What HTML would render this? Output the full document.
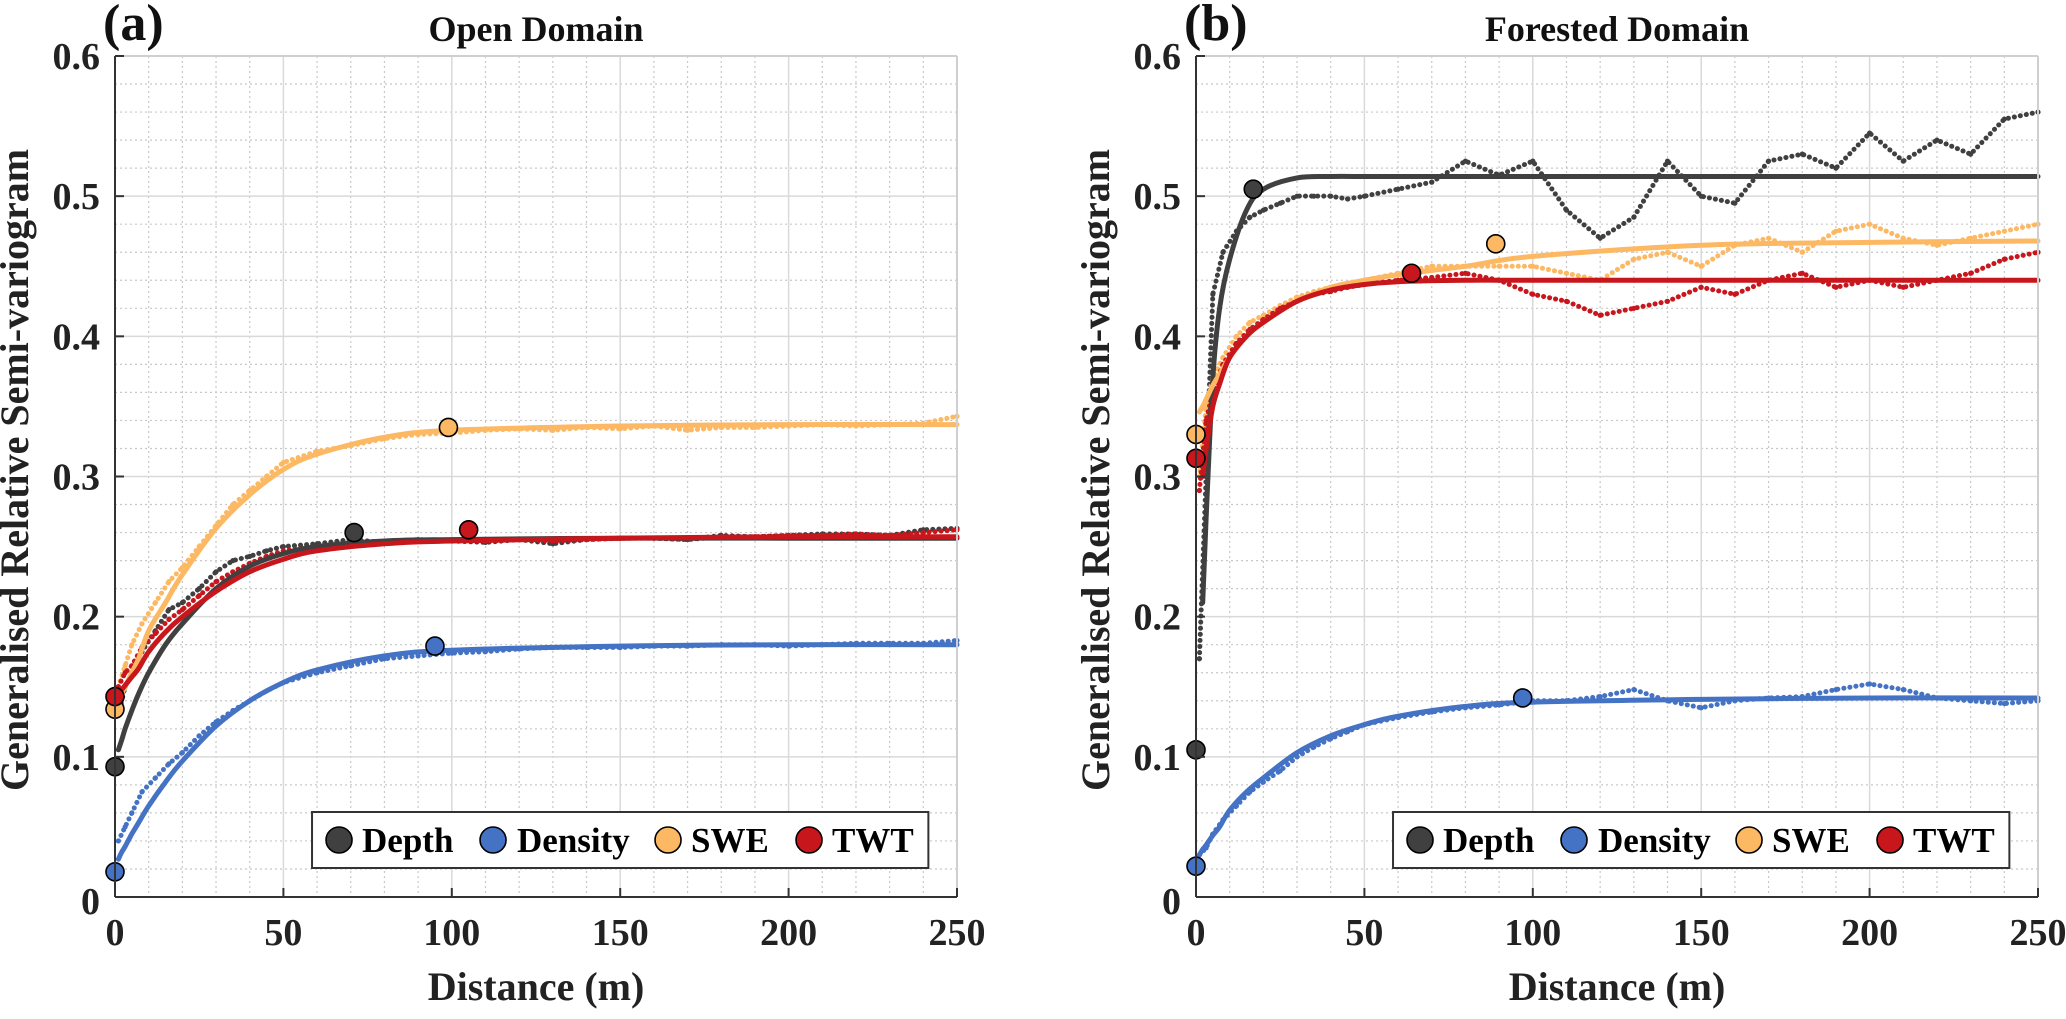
<!DOCTYPE html>
<html><head><meta charset="utf-8"><style>
html,body{margin:0;padding:0;background:#fff;}
svg{display:block;}
svg text{font-family:"Liberation Serif","DejaVu Serif",serif;font-weight:bold;}
</style></head><body>
<svg id="fig" width="2066" height="1019" viewBox="0 0 2066 1019" xmlns="http://www.w3.org/2000/svg"></svg>
<script>
// ---------- data ----------
const seriesNames = ["Depth","Density","SWE","TWT"];
const seriesColors = ["#404040","#4472c4","#fdb863","#c8161d"];
const xTicks = [0,50,100,150,200,250];
const yTicks = [0,0.1,0.2,0.3,0.4,0.5,0.6];
const yTickLabels = ["0","0.1","0.2","0.3","0.4","0.5","0.6"];
const xTickLabels = ["0","50","100","150","200","250"];
const panelTitles = ["Open Domain","Forested Domain"];
const panelLetters = ["(a)","(b)"];

// empirical lags
const empX = [1,3,5,8,12,16,20,25,30,35,40,45,50,60,70,80,90,100,110,120,130,140,150,160,170,180,190,200,210,220,230,240,250];
// Panel a empirical
const aDepthEmp = [0.13,0.15,0.16,0.175,0.19,0.205,0.21,0.22,0.232,0.24,0.243,0.247,0.25,0.252,0.255,0.253,0.255,0.254,0.253,0.255,0.252,0.255,0.256,0.256,0.255,0.258,0.257,0.258,0.259,0.259,0.258,0.262,0.263];
const aDensityEmp = [0.04,0.05,0.06,0.075,0.085,0.095,0.103,0.115,0.125,0.133,0.14,0.147,0.153,0.16,0.165,0.17,0.172,0.174,0.175,0.177,0.178,0.178,0.178,0.179,0.179,0.18,0.18,0.179,0.18,0.181,0.181,0.181,0.183];
const aSweEmp = [0.15,0.165,0.18,0.195,0.21,0.225,0.235,0.25,0.265,0.28,0.29,0.3,0.31,0.318,0.322,0.327,0.33,0.331,0.333,0.334,0.333,0.335,0.334,0.336,0.333,0.335,0.335,0.336,0.337,0.336,0.337,0.338,0.343];
const aTwtEmp = [0.15,0.16,0.165,0.178,0.188,0.198,0.205,0.215,0.225,0.232,0.238,0.243,0.247,0.25,0.252,0.253,0.254,0.254,0.254,0.255,0.254,0.255,0.256,0.256,0.255,0.257,0.257,0.258,0.258,0.259,0.258,0.26,0.262];
// Panel b empirical
const bDepthEmp = [0.17,0.3,0.43,0.46,0.475,0.485,0.49,0.495,0.5,0.5,0.5,0.498,0.5,0.505,0.51,0.525,0.515,0.525,0.49,0.47,0.485,0.525,0.5,0.495,0.525,0.53,0.52,0.545,0.525,0.54,0.53,0.555,0.56];
const bDensityEmp = [0.03,0.035,0.045,0.055,0.065,0.075,0.082,0.09,0.1,0.107,0.113,0.118,0.123,0.128,0.132,0.135,0.137,0.14,0.14,0.143,0.148,0.14,0.135,0.14,0.142,0.143,0.148,0.152,0.148,0.142,0.14,0.138,0.14];
const bSweEmp = [0.3,0.35,0.37,0.385,0.4,0.41,0.415,0.422,0.428,0.432,0.435,0.437,0.44,0.445,0.45,0.45,0.45,0.45,0.445,0.44,0.455,0.46,0.45,0.465,0.47,0.46,0.475,0.48,0.47,0.465,0.47,0.475,0.48];
const bTwtEmp = [0.29,0.34,0.36,0.38,0.395,0.405,0.412,0.42,0.425,0.43,0.432,0.435,0.437,0.44,0.442,0.445,0.44,0.43,0.425,0.415,0.42,0.425,0.435,0.43,0.44,0.445,0.435,0.44,0.435,0.44,0.445,0.455,0.46];

// fitted model curves
const fitX = [1,2,3,5,7,10,15,20,30,40,50,60,80,100,150,200,250];
const aDepthFit = [0.105,0.112,0.12,0.133,0.145,0.16,0.18,0.195,0.22,0.236,0.245,0.25,0.254,0.255,0.256,0.256,0.256];
const aDensityFit = [0.027,0.032,0.036,0.045,0.053,0.065,0.082,0.097,0.122,0.14,0.153,0.162,0.172,0.176,0.179,0.18,0.18];
const aSweFit = [0.14,0.145,0.15,0.16,0.17,0.19,0.21,0.23,0.263,0.287,0.305,0.316,0.328,0.333,0.336,0.337,0.337];
const aTwtFit = [0.145,0.148,0.151,0.157,0.163,0.175,0.189,0.2,0.218,0.232,0.241,0.247,0.252,0.254,0.256,0.257,0.257];
const bDepthFit = [null,0.21,0.27,0.37,0.42,0.455,0.49,0.505,0.513,0.514,0.514,0.514,0.514,0.514,0.514,0.514,0.514];
const bDensityFit = [0.03,0.034,0.037,0.044,0.05,0.062,0.075,0.085,0.103,0.115,0.123,0.129,0.136,0.139,0.141,0.142,0.142];
const bSweFit = [0.346,0.35,0.355,0.365,0.373,0.385,0.4,0.41,0.425,0.435,0.44,0.444,0.45,0.457,0.465,0.467,0.468];
const bTwtFit = [null,0.3,0.32,0.35,0.366,0.385,0.4,0.41,0.425,0.433,0.437,0.439,0.44,0.44,0.44,0.44,0.44];

// markers: [range, sill] and [0, nugget]
const aMarkX = [71,95,99,105];
const aMarkY = [0.26,0.179,0.335,0.262];
const aNugget = [0.093,0.018,0.134,0.143];
const bMarkX = [17,97,89,64];
const bMarkY = [0.505,0.142,0.466,0.445];
const bNugget = [0.105,0.022,0.33,0.313];

const panels = [
  {x0:115, emp:[aDepthEmp,aDensityEmp,aSweEmp,aTwtEmp], fit:[aDepthFit,aDensityFit,aSweFit,aTwtFit], mx:aMarkX, my:aMarkY, nug:aNugget},
  {x0:1196, emp:[bDepthEmp,bDensityEmp,bSweEmp,bTwtEmp], fit:[bDepthFit,bDensityFit,bSweFit,bTwtFit], mx:bMarkX, my:bMarkY, nug:bNugget}
];
const PW = 842, Y0 = 897, Y1 = 56;
const NS = "http://www.w3.org/2000/svg";
const FONT = '"Liberation Serif", "DejaVu Serif", serif';
const svg = document.getElementById("fig");
function mk(tag, attrs, parent){const e=document.createElementNS(NS,tag);for(const k in attrs)e.setAttribute(k,attrs[k]);if(tag==="text"){e.setAttribute("font-family",FONT);e.setAttribute("font-weight","bold");}(parent||svg).appendChild(e);return e;}
function catmull(pts){
  let d="M"+pts[0][0].toFixed(1)+","+pts[0][1].toFixed(1);
  for(let i=0;i<pts.length-1;i++){
    const p0=pts[i-1]||pts[i],p1=pts[i],p2=pts[i+1],p3=pts[i+2]||p2;
    const c1=[p1[0]+(p2[0]-p0[0])/6,p1[1]+(p2[1]-p0[1])/6];
    const c2=[p2[0]-(p3[0]-p1[0])/6,p2[1]-(p3[1]-p1[1])/6];
    d+=" C"+c1[0].toFixed(1)+","+c1[1].toFixed(1)+" "+c2[0].toFixed(1)+","+c2[1].toFixed(1)+" "+p2[0].toFixed(1)+","+p2[1].toFixed(1);
  }
  return d;
}

panels.forEach((p,pi)=>{
  const sx = v => p.x0 + v/250*PW;
  const sy = v => Y0 - v/0.6*(Y0-Y1);
  const g = mk("g",{});
  
  
  // minor grid
  for(let v=10; v<250; v+=10){ if(v%50) mk("line",{x1:sx(v),x2:sx(v),y1:Y1,y2:Y0,stroke:"#c8c8c8","stroke-width":1.2,"stroke-dasharray":"2,3"},g); }
  for(let k=1;k<30;k++){ if(k%5){ const v=k*0.02; mk("line",{x1:sx(0),x2:sx(250),y1:sy(v),y2:sy(v),stroke:"#c8c8c8","stroke-width":1.2,"stroke-dasharray":"2,3"},g);} }
  // major grid
  xTicks.forEach(v=>{ mk("line",{x1:sx(v),x2:sx(v),y1:Y1,y2:Y0,stroke:"#d9d9d9","stroke-width":1.5},g); });
  yTicks.forEach(v=>{ mk("line",{x1:sx(0),x2:sx(250),y1:sy(v),y2:sy(v),stroke:"#d9d9d9","stroke-width":1.5},g); });
  // empirical dots
  p.emp.forEach((arr,si)=>{
    const pts = empX.map((x,i)=>[sx(x),sy(arr[i])]);
    const pl = mk("polyline",{points:pts.map(q=>q.join(",")).join(" "),fill:"none",stroke:seriesColors[si],"stroke-width":5,"stroke-dasharray":"0.1,6","stroke-linecap":"round"},g);
    
    
    pts.forEach(q=>{ mk("circle",{cx:q[0],cy:q[1],r:2.6,fill:seriesColors[si]},g); });
  });
  // fitted curves
  p.fit.forEach((arr,si)=>{
    const pts=[]; fitX.forEach((x,i)=>{ if(arr[i]!==null) pts.push([sx(x),sy(arr[i])]); });
    const path = mk("path",{d:catmull(pts),fill:"none",stroke:seriesColors[si],"stroke-width":5,"stroke-linecap":"round"},g);
    
    
  });
  // markers
  seriesNames.forEach((n,si)=>{
    const m1 = mk("circle",{cx:sx(p.mx[si]),cy:sy(p.my[si]),r:9,fill:seriesColors[si],stroke:"#000","stroke-width":1.6},g);
    
    
    const m2 = mk("circle",{cx:sx(0),cy:sy(p.nug[si]),r:9,fill:seriesColors[si],stroke:"#000","stroke-width":1.6},g);
    
    
  });
  // axes box
  mk("line",{x1:sx(0),x2:sx(250),y1:Y1,y2:Y1,stroke:"#cfcfcf","stroke-width":2},g);
  mk("line",{x1:sx(250),x2:sx(250),y1:Y1,y2:Y0,stroke:"#cfcfcf","stroke-width":2},g);
  const ya = mk("line",{x1:sx(0),x2:sx(0),y1:Y1,y2:Y0,stroke:"#333","stroke-width":2},g);
   
  const xa = mk("line",{x1:sx(0),x2:sx(250),y1:Y0,y2:Y0,stroke:"#333","stroke-width":2},g);
   
  // ticks & labels
  xTicks.forEach((v,i)=>{
    mk("line",{x1:sx(v),x2:sx(v),y1:Y0,y2:Y0-9,stroke:"#333","stroke-width":2},g);
    const t = mk("text",{x:sx(v),y:945,"text-anchor":"middle","font-size":38,fill:"#222"},g);
    t.textContent = xTickLabels[i];
     
  });
  yTicks.forEach((v,i)=>{
    mk("line",{x1:sx(0),x2:sx(0)+9,y1:sy(v),y2:sy(v),stroke:"#333","stroke-width":2},g);
    const t = mk("text",{x:sx(0)-15,y:sy(v)+(v===0?17:13),"text-anchor":"end","font-size":38,fill:"#222"},g);
    t.textContent = yTickLabels[i];
     
  });
  // titles
  const tt = mk("text",{x:sx(125),y:41,"text-anchor":"middle","font-size":36,fill:"#111"},g);
  tt.textContent = panelTitles[pi];
   
  const lt = mk("text",{x:sx(0)-12,y:40,"font-size":52,fill:"#111"},g);
  lt.textContent = panelLetters[pi];
   
  const xl = mk("text",{x:sx(125),y:1000,"text-anchor":"middle","font-size":40,fill:"#222"},g);
  xl.textContent = "Distance (m)";
   
  const ylx = sx(0)-87;
  const yl = mk("text",{x:ylx,y:470,"text-anchor":"middle","font-size":40,fill:"#222",transform:"rotate(-90 "+ylx+" 470)"},g);
  yl.textContent = "Generalised Relative Semi-variogram";
   
  // legend
  const lx = sx(58.5), lw = sx(241.5)-lx;
  const lg = mk("g",{},g);
   
  mk("rect",{x:lx,y:812,width:lw,height:56,fill:"#fff",stroke:"#333","stroke-width":2},lg);
  const cOff=[27,181,356,497], tOff=[50,205,379,520];
  seriesNames.forEach((n,si)=>{
    const e = mk("g",{},lg);
    
    
    mk("circle",{cx:lx+cOff[si],cy:840,r:13,fill:seriesColors[si],stroke:"#000","stroke-width":1.6},e);
    const t = mk("text",{x:lx+tOff[si],y:852,"font-size":35,fill:"#000"},e);
    t.textContent = n;
  });
});
</script>
</body></html>
